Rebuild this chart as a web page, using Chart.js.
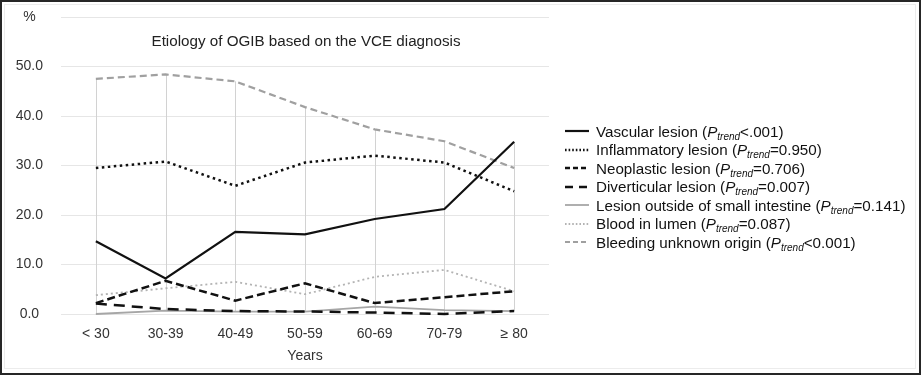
<!DOCTYPE html>
<html><head><meta charset="utf-8">
<script src="https://cdn.jsdelivr.net/npm/chart.js@4/dist/chart.umd.min.js"></script>
<style>
html,body{margin:0;padding:0;background:#fff;}
#wrap{position:relative;width:921px;height:375px;overflow:hidden;font-family:"Liberation Sans",Arial,sans-serif;background:#fff;}
#cv{position:absolute;left:0;top:0;width:921px;height:375px;}
#frame{position:absolute;left:0;top:0;width:921px;height:375px;box-sizing:border-box;border:2px solid #262626;pointer-events:none;}
#inner{position:absolute;left:4px;top:4px;right:5px;bottom:6px;border:1px solid #ececec;pointer-events:none;}
#title{position:absolute;left:61px;width:490px;top:32px;text-align:center;font-size:15.2px;color:#222;}
#legend{position:absolute;left:564px;top:122px;font-size:15.2px;color:#111;}
.row{height:18.5px;display:flex;align-items:center;white-space:nowrap;}
.row svg{width:26px;height:10px;margin-right:6px;flex:none;}
.row sub{font-size:10px;font-style:italic;vertical-align:-3px;line-height:0;}
</style>
</head><body>
<div id="wrap">
<div id="cv"><canvas id="c"></canvas></div>
<div id="title">Etiology of OGIB based on the VCE diagnosis</div>
<div id="legend"></div>
<div id="inner"></div>
<div id="frame"></div>
</div>
<script>
const categories = ['< 30','30-39','40-49','50-59','60-69','70-79','\u2265 80'];
const vascular      = [14.7, 7.2, 16.6, 16.1, 19.2, 21.2, 34.8];
const inflammatory  = [29.5, 30.8, 25.9, 30.6, 32.0, 30.6, 24.8];
const neoplastic    = [2.2, 6.7, 2.7, 6.2, 2.2, 3.4, 4.6];
const diverticular  = [2.1, 1.0, 0.6, 0.5, 0.3, 0.0, 0.6];
const outsideSI     = [0.0, 0.7, 0.5, 0.5, 1.5, 0.8, 0.6];
const bloodInLumen  = [3.8, 5.2, 6.5, 4.0, 7.5, 8.9, 4.6];
const unknownOrigin = [47.5, 48.4, 47.0, 41.8, 37.3, 34.9, 29.5];
const seriesNames = ['Vascular lesion','Inflammatory lesion','Neoplastic lesion','Diverticular lesion','Lesion outside of small intestine','Blood in lumen','Bleeding unknown origin'];
const pTrend = ['<.001','=0.950','=0.706','=0.007','=0.141','=0.087','<0.001'];
const yTicks = [0,10,20,30,40,50,60];

const styles = [
  {color:'#111111', width:2.2, dash:[]},
  {color:'#111111', width:2.5, dash:[2.5,3.5]},
  {color:'#111111', width:2.5, dash:[8,4]},
  {color:'#111111', width:2.5, dash:[11,7]},
  {color:'#a6a6a6', width:1.8, dash:[]},
  {color:'#b3b3b3', width:1.8, dash:[2,3]},
  {color:'#a0a0a0', width:2.2, dash:[7,4]}
];
const legendDash = ['none','1.6,2','5,3','8,6','none','1.6,2','5,3'];
const seriesData = [vascular, inflammatory, neoplastic, diverticular, outsideSI, bloodInLumen, unknownOrigin];

const datasets = seriesData.map((d,i)=>({
  label: seriesNames[i], data: d,
  borderColor: styles[i].color, backgroundColor: styles[i].color,
  borderWidth: styles[i].width, borderDash: styles[i].dash,
  pointRadius: 0, tension: 0, fill: false, clip: false
}));

// legend (HTML, real text)
const lg = document.getElementById('legend');
seriesNames.forEach((n,i)=>{
  const s = styles[i];
  const row = document.createElement('div'); row.className='row';
  row.innerHTML = '<svg viewBox="0 0 26 10"><line x1="1" y1="5" x2="25" y2="5" stroke="'+s.color+'" stroke-width="'+s.width+'" stroke-dasharray="'+legendDash[i]+'"/></svg>'+
    '<span>'+n+' (<i>P</i><sub>trend</sub>'+pTrend[i].replace('<','&lt;')+')</span>';
  lg.appendChild(row);
});

const dropLines = {id:'dropLines', beforeDatasetsDraw(chart){
  const {ctx, scales:{x,y}} = chart;
  ctx.save(); ctx.strokeStyle='#d2d2d2'; ctx.lineWidth=1;
  categories.forEach((c,i)=>{
    const vals = chart.data.datasets.map(d=>d.data[i]);
    const px = Math.round(x.getPixelForValue(i))+0.5;
    ctx.beginPath();
    ctx.moveTo(px, y.getPixelForValue(Math.max(...vals)));
    ctx.lineTo(px, y.getPixelForValue(Math.min(...vals)));
    ctx.stroke();
  });
  ctx.restore();
}};

new Chart(document.getElementById('c'), {
  type:'line',
  data:{labels:categories, datasets},
  plugins:[dropLines],
  options:{
    responsive:true, maintainAspectRatio:false, animation:false,
    layout:{padding:{left:0,right:372,top:17,bottom:0}},
    plugins:{legend:{display:false}, title:{display:false}, tooltip:{enabled:false}},
    scales:{
      x:{
        offset:true,
        grid:{display:false, drawTicks:false},
        border:{display:false},
        ticks:{color:'#333', font:{family:'"Liberation Sans", Arial, sans-serif', size:14}, padding:12, maxRotation:0},
        title:{display:true, text:'Years', color:'#333', font:{family:'"Liberation Sans", Arial, sans-serif', size:14}, padding:{top:0,bottom:10}},
        afterFit(s){ s.height = 61; }
      },
      y:{
        min:0, max:60,
        afterBuildTicks(s){ s.ticks = yTicks.map(v=>({value:v})); },
        grid:{color:'#e6e6e6', drawTicks:true, tickLength:18, tickColor:'rgba(0,0,0,0)', lineWidth:1},
        border:{display:false},
        ticks:{color:'#333', crossAlign:'center', padding:0, font:{family:'"Liberation Sans", Arial, sans-serif', size:14},
          callback:(v)=> v===60 ? '%' : Number(v).toFixed(1)},
        afterFit(s){ s.width = 61; }
      }
    }
  }
});
</script>
</body></html>
